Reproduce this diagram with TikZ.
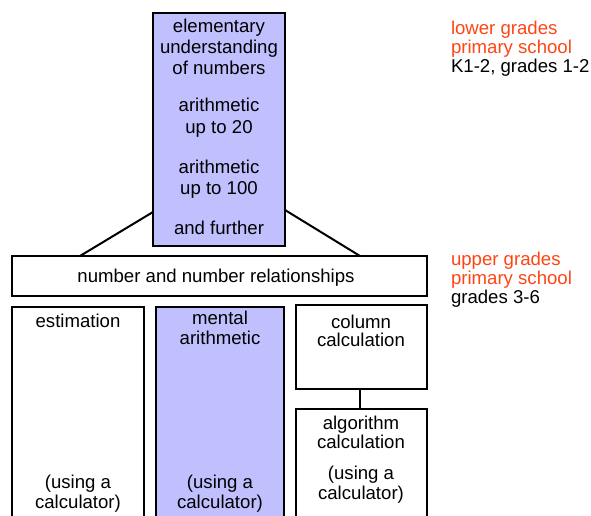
\documentclass[tikz,border=0pt]{standalone}
\usepackage{fontspec}
\setmainfont{Liberation Sans}
\definecolor{boxblue}{RGB}{192,192,255}
\definecolor{gradeorange}{RGB}{255,69,20}
\begin{document}
\begin{tikzpicture}[x=1pt,y=-1pt,
  every node/.style={font=\fontsize{18.6}{21}\selectfont, inner sep=0pt, outer sep=0pt},
  frame/.style={draw=black, line width=1.9pt, rectangle},
  bluebox/.style={frame, fill=boxblue},
  txt/.style={align=center, anchor=base},
  link/.style={draw=black, line width=2pt},
  grade/.style={align=left, anchor=north west, font=\fontsize{18.6}{19}\selectfont}
]
\clip (0,0) rectangle (591,516);
\fill[white] (0,0) rectangle (591,516);

% top column: lower grades content (anchor=base sits on the last line)
\node[bluebox, minimum width=132pt, minimum height=233pt] (top) at (219,129.5) {};
\node[txt] (t1) at (219,75) {elementary\\understanding\\of numbers};
\node[txt] (t2) at (219,133) {arithmetic\\up to 20};
\node[txt] (t3) at (219,194) {arithmetic\\up to 100};
\node[txt] (t4) at (219,234) {and further};

% band across the upper grades
\node[frame, fill=white, minimum width=415pt, minimum height=40pt] (num) at (219.5,276) {};
\node[anchor=base] (numtxt) at (216,282) {number and number relationships};

\draw[link] (top.west |- 0,212) -- (num.north -| 80,0);
\draw[link] (top.east |- 0,210) -- (num.north -| 360,0);

% lower columns, running off the bottom edge
\draw[frame, fill=white] (12,307) rectangle (144,540);
\node[txt] (e1) at (78,327) {estimation};
\node[txt, font=\fontsize{18.6}{20}\selectfont] (e2) at (78,508) {(using a\\calculator)};

\draw[bluebox] (156,307) rectangle (284,540);
\node[txt, font=\fontsize{18.6}{20}\selectfont] (m1) at (220,344) {mental\\arithmetic};
\node[txt, font=\fontsize{18.6}{20}\selectfont] (m2) at (220,508) {(using a\\calculator)};

\node[frame, fill=white, minimum width=131pt, minimum height=84pt] (col) at (361.5,347) {};
\node[txt, font=\fontsize{18.6}{18}\selectfont] (c1) at (361,346) {column\\calculation};

\draw[frame, fill=white] (296,409) rectangle (427,540);
\coordinate (alg) at (360,409);
\node[txt, font=\fontsize{18.6}{19}\selectfont] (a1) at (361,448) {algorithm\\calculation};
\node[txt, font=\fontsize{18.6}{20}\selectfont] (a2) at (361,499) {(using a\\calculator)};

\draw[link] (col.south -| alg) -- (alg);

% grade labels
\node[grade] (g1) at (451,21) {\textcolor{gradeorange}{lower grades}\\\textcolor{gradeorange}{primary school}\\K1-2, grades 1-2};
\node[grade] (g2) at (451,252) {\textcolor{gradeorange}{upper grades}\\\textcolor{gradeorange}{primary school}\\grades 3-6};
\end{tikzpicture}
\end{document}
